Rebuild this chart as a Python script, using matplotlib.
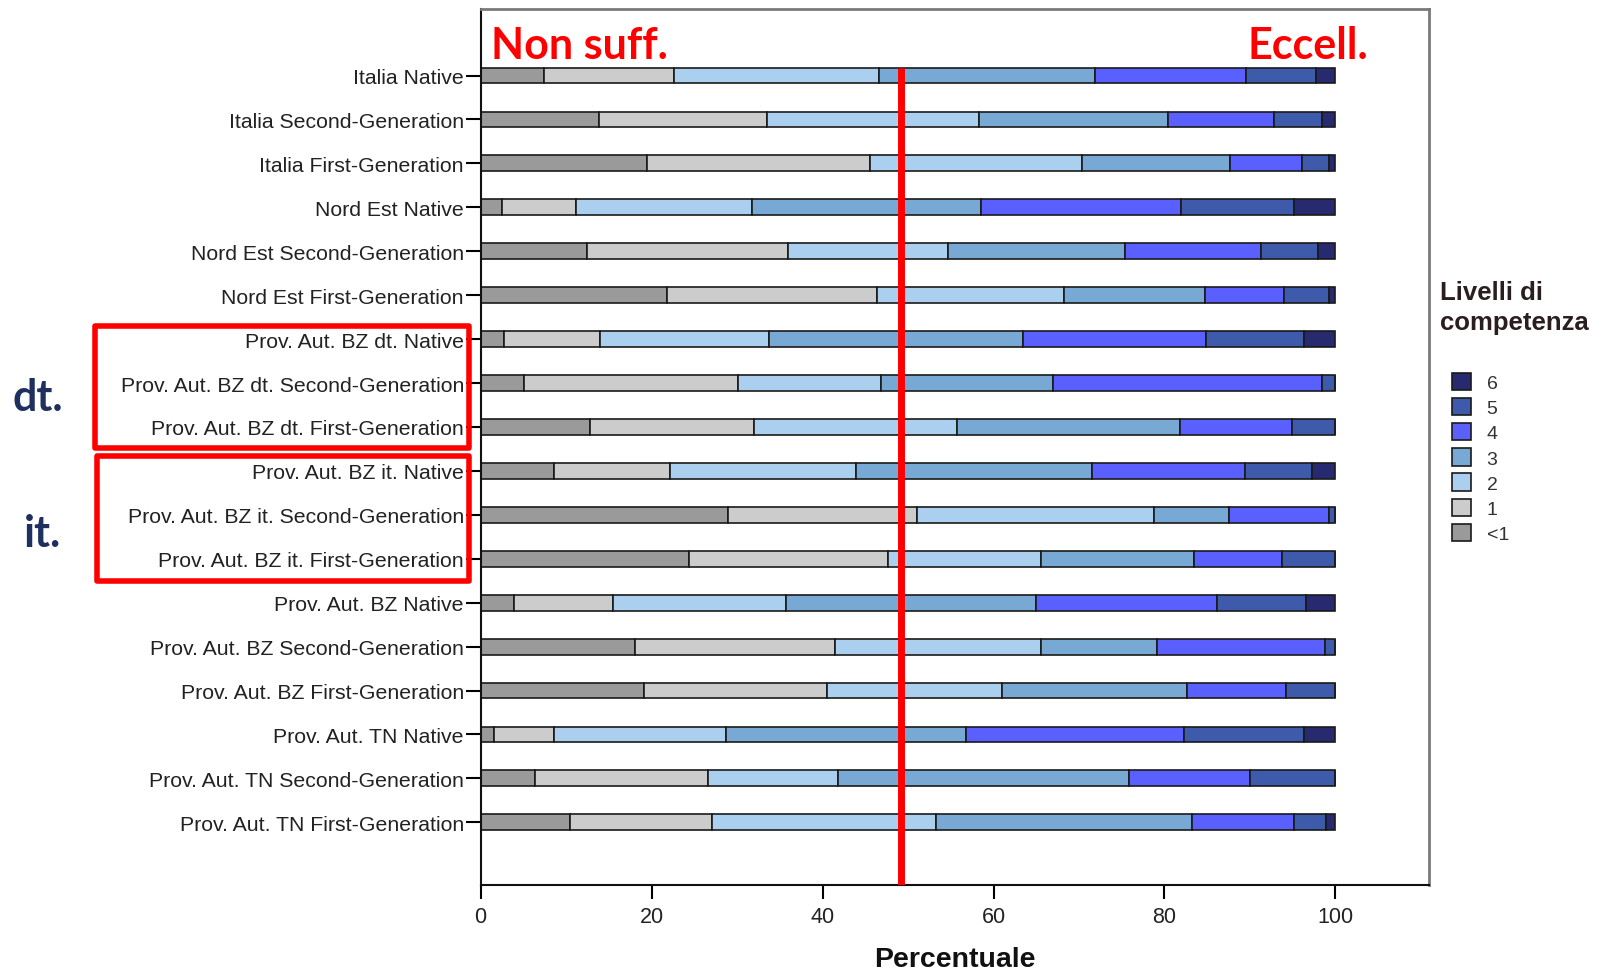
import matplotlib.pyplot as plt
from matplotlib.patches import Rectangle

# gruppi (dall'alto verso il basso)
gruppi = [
    "Italia Native", "Italia Second-Generation", "Italia First-Generation",
    "Nord Est Native", "Nord Est Second-Generation", "Nord Est First-Generation",
    "Prov. Aut. BZ dt. Native", "Prov. Aut. BZ dt. Second-Generation",
    "Prov. Aut. BZ dt. First-Generation",
    "Prov. Aut. BZ it. Native", "Prov. Aut. BZ it. Second-Generation",
    "Prov. Aut. BZ it. First-Generation",
    "Prov. Aut. BZ Native", "Prov. Aut. BZ Second-Generation",
    "Prov. Aut. BZ First-Generation",
    "Prov. Aut. TN Native", "Prov. Aut. TN Second-Generation",
    "Prov. Aut. TN First-Generation",
]

livelli = ["<1", "1", "2", "3", "4", "5", "6"]
colori = ["#9a9a9a", "#cccccc", "#abcfee", "#78a9d5", "#5a60fe", "#3d5aab", "#282a70"]

# percentuali per livello, stesso ordine di gruppi
liv_lt1 = [7.4, 13.8, 19.5, 2.5, 12.5, 21.8, 2.7, 5.1, 12.8, 8.6, 28.9, 24.4, 3.9, 18.1, 19.1, 1.6, 6.4, 10.5]
liv_1 = [15.2, 19.7, 26.1, 8.6, 23.4, 24.6, 11.3, 25.0, 19.2, 13.5, 22.2, 23.2, 11.6, 23.3, 21.4, 7.0, 20.2, 16.6]
liv_2 = [24.0, 24.8, 24.8, 20.6, 18.8, 21.9, 19.7, 16.7, 23.7, 21.8, 27.7, 17.9, 20.2, 24.1, 20.5, 20.1, 15.2, 26.2]
liv_3 = [25.3, 22.1, 17.3, 26.8, 20.7, 16.4, 29.7, 20.2, 26.1, 27.6, 8.8, 17.9, 29.3, 13.6, 21.6, 28.1, 34.1, 29.9]
liv_4 = [17.6, 12.4, 8.4, 23.4, 15.9, 9.3, 21.5, 31.4, 13.1, 17.9, 11.6, 10.3, 21.1, 19.7, 11.6, 25.5, 14.1, 11.9]
liv_5 = [8.2, 5.6, 3.2, 13.3, 6.7, 5.3, 11.4, 1.6, 5.1, 7.9, 0.8, 6.3, 10.4, 1.2, 5.8, 14.0, 10.0, 3.8]
liv_6 = [2.3, 1.6, 0.7, 4.8, 2.0, 0.7, 3.7, 0.0, 0.0, 2.7, 0.0, 0.0, 3.5, 0.0, 0.0, 3.7, 0.0, 1.1]

soglia = 49.2  # linea rossa

serie = [liv_lt1, liv_1, liv_2, liv_3, liv_4, liv_5, liv_6]

plt.rcParams['font.family'] = ['Liberation Sans', 'DejaVu Sans']

fig = plt.figure(figsize=(16, 9.7), dpi=100)
ax = fig.add_axes([0.3004, 0.0869, 0.5925, 0.9026])

y = list(range(len(gruppi)))
h_bar = 0.36
left = [0.0] * len(gruppi)
handles = []
for lab, col, vals in zip(livelli, colori, serie):
    b = ax.barh(y, vals, left=left, height=h_bar, color=col,
                edgecolor='#1a1a1a', linewidth=1.2, label=lab)
    handles.append(b)
    left = [l + v for l, v in zip(left, vals)]

ax.plot([soglia, soglia], [-h_bar / 2, len(gruppi) - 1 + 1.42],
        color='#ff0000', linewidth=5, solid_capstyle='butt', zorder=5)

ax.set_xlim(0, 110.9)
ax.set_ylim(len(gruppi) - 1 + 1.42, -1.51)
ax.set_yticks(y)
ax.set_yticklabels(gruppi, fontsize=15.3, color='#222222')
ax.set_xticks([0, 20, 40, 60, 80, 100])
ax.tick_params(axis='y', length=11, width=1.5, pad=1)
ax.tick_params(axis='x', length=10, width=1.5, labelsize=15.5, labelcolor='#222222', pad=5)
ax.set_xlabel("Percentuale", fontsize=20.5, fontweight='bold', labelpad=14, color='#111111')

for s in ['top', 'right']:
    ax.spines[s].set_color('#7a7a7a')
    ax.spines[s].set_linewidth(2)
for s in ['left', 'bottom']:
    ax.spines[s].set_color('#111111')
    ax.spines[s].set_linewidth(1.5)

# testi rossi
fig.text(491 / 1600, 1 - 46 / 970, "Non suff.", color='#ff0000', fontsize=31,
         fontweight='bold', family='Lato', ha='left', va='center')
fig.text(1368 / 1600, 1 - 46 / 970, "Eccell.", color='#ff0000', fontsize=31,
         fontweight='bold', family='Lato', ha='right', va='center')

# riquadri rossi e etichette gruppi linguistici
for (x0, y0, x1, y1) in [(95, 327, 469, 449), (97, 457, 469, 582)]:
    fig.patches.append(Rectangle((x0 / 1600, 1 - y1 / 970), (x1 - x0) / 1600, (y1 - y0) / 970,
                                 transform=fig.transFigure, fill=False,
                                 edgecolor='#ff0000', linewidth=4, joinstyle='round'))
fig.text(38 / 1600, 1 - 398 / 970, "dt.", color='#1f3060', fontsize=31,
         fontweight='bold', family='Lato', ha='center', va='center')
fig.text(42 / 1600, 1 - 534 / 970, "it.", color='#1f3060', fontsize=31,
         fontweight='bold', family='Lato', ha='center', va='center')

# legenda
fig.text(1440 / 1600, 1 - 281 / 970, "Livelli di\ncompetenza", fontsize=18.5,
         fontweight='bold', color='#2a1e1e', ha='left', va='top', linespacing=1.3)
leg = fig.legend(handles[::-1], livelli[::-1], loc='upper left',
                 bbox_to_anchor=(1438 / 1600, 1 - 360 / 970), frameon=False,
                 fontsize=14, handlelength=1.0, handleheight=1.0, labelspacing=0.3,
                 handletextpad=0.8, borderpad=0.2)
for t in leg.get_texts():
    t.set_color('#333333')

fig.savefig("out.png", dpi=100)
